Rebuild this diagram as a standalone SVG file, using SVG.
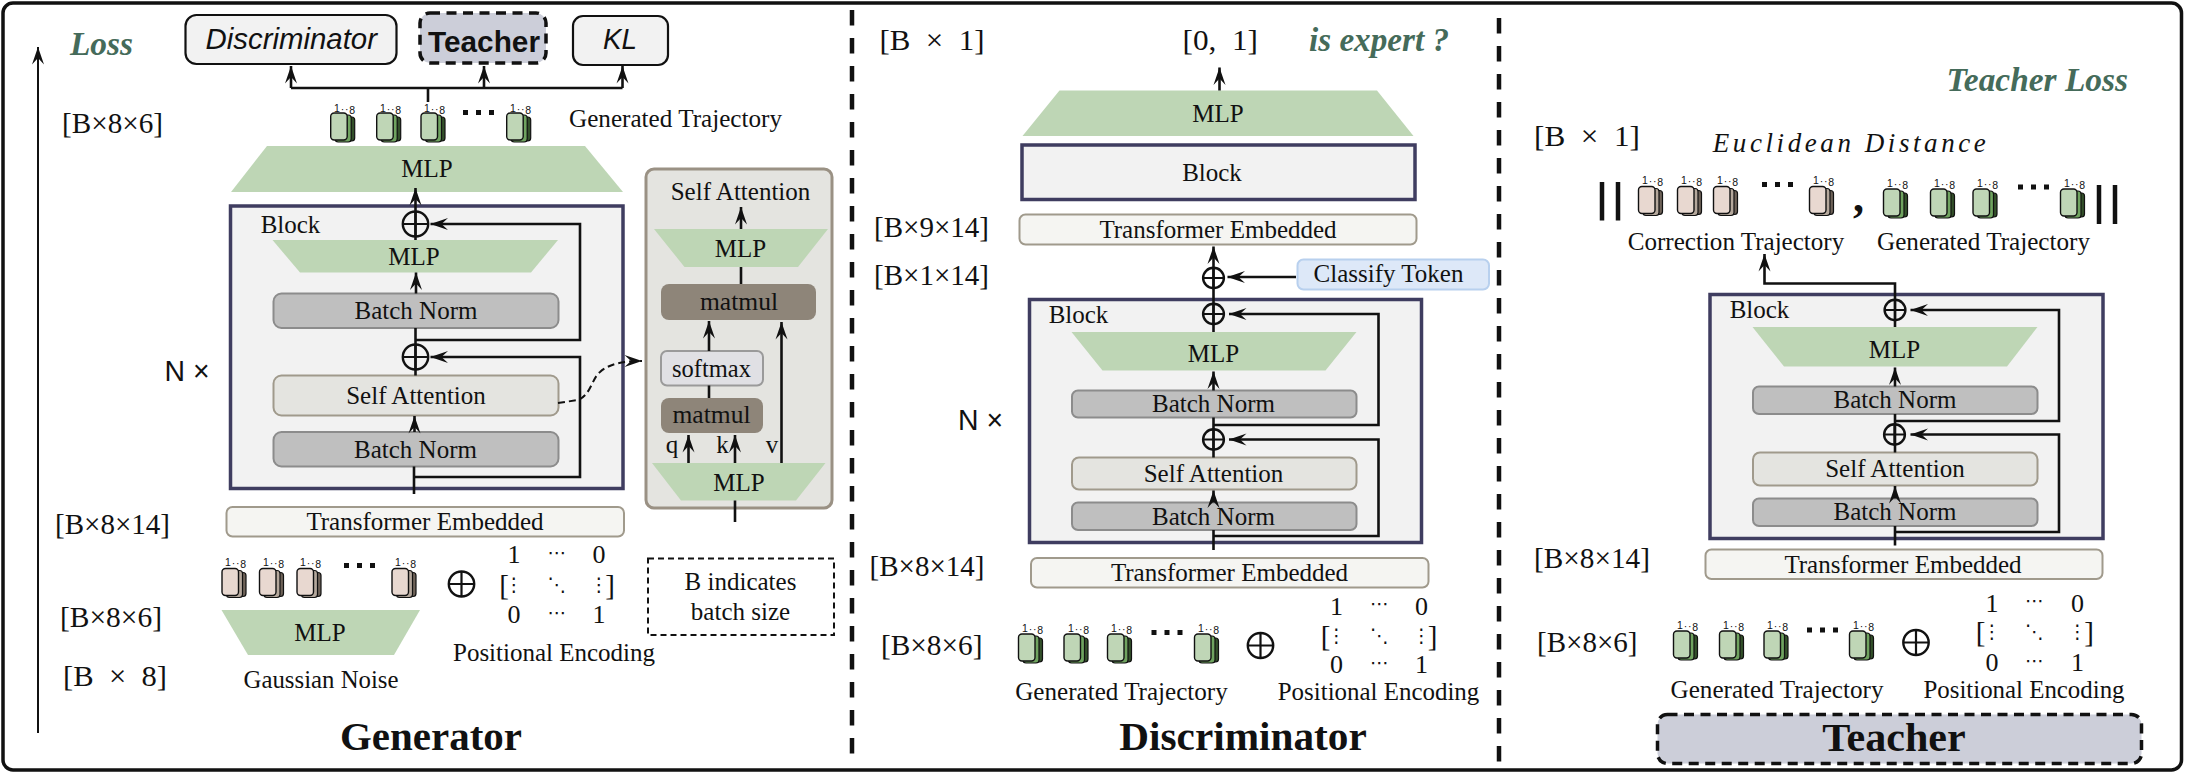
<svg xmlns="http://www.w3.org/2000/svg" width="2185" height="775" viewBox="0 0 2185 775">
<style>
text{font-family:"Liberation Serif","Times New Roman",serif;fill:#111}
.l{font-size:25px;text-anchor:middle}
.d{font-size:29px}
.tt{font-size:41px;font-weight:bold;text-anchor:middle}
.g{font-size:33px;font-weight:bold;font-style:italic;fill:#456b5a}
.i{font-family:"Liberation Sans",Arial,sans-serif;font-size:10.5px;letter-spacing:.8px;fill:#111}
.n{font-family:"Liberation Sans",Arial,sans-serif;font-size:29px}
.m{font-size:26px;text-anchor:middle}
.b{font-size:29px;text-anchor:middle}
.u{font-family:"DejaVu Sans",sans-serif;font-size:19px;text-anchor:middle}
.mlp{fill:#bed6b5}
.blk{fill:#f2f2f2;stroke:#3f3d60;stroke-width:3.5}
.bn{fill:#bfbfbf;stroke:#8c8c8c;stroke-width:2}
.sa{fill:#e4e4e0;stroke:#a09a8c;stroke-width:2}
.te{fill:#f5f5f2;stroke:#a09a8c;stroke-width:2}
.mm{fill:#8e8579}
.tc{fill:#ccced9;stroke:#111;stroke-width:3.5;stroke-dasharray:10 6.5}
.ol{fill:#f2f2f2;stroke:#111;stroke-width:2.2}
.c{fill:none;stroke:#111;stroke-width:2.6}
.a{marker-end:url(#ah)}
.dv{fill:none;stroke:#111;stroke-width:4.5;stroke-dasharray:15.5 12.5}
</style>
<defs>
<marker id="ah" markerUnits="userSpaceOnUse" markerWidth="20" markerHeight="14" refX="18" refY="7" orient="auto"><path d="M18 7L0.5 1L7 7L0.5 13Z" fill="#111"/></marker>
<g id="ig"><rect x="8" y="4" width="16" height="24" rx="3" fill="#33502a" stroke="#111" stroke-width="1.2"/><rect x="4.5" y="2" width="16" height="27" rx="3" fill="#6fa35f" stroke="#111" stroke-width="1.2"/><rect width="16.5" height="27" rx="3.5" fill="#bfd6b6" stroke="#111" stroke-width="1.4"/></g>
<g id="ip"><rect x="8" y="4" width="16" height="24" rx="3" fill="#6e6258" stroke="#111" stroke-width="1.2"/><rect x="4.5" y="2" width="16" height="27" rx="3" fill="#b5a89c" stroke="#111" stroke-width="1.2"/><rect width="16.5" height="27" rx="3.5" fill="#e8d8d0" stroke="#111" stroke-width="1.4"/></g>
<g id="pl"><ellipse rx="12.7" ry="12.5" fill="none" stroke="#111" stroke-width="2.4"/><path d="M-12.7 0H12.7M0-12.5V12.5" stroke="#111" stroke-width="2.2"/></g>
<g id="ps"><ellipse rx="10.4" ry="10.2" fill="none" stroke="#111" stroke-width="2.4"/><path d="M-10.4 0H10.4M0-10.2V10.2" stroke="#111" stroke-width="2.2"/></g>
<path id="d3" d="M0 0h5v5h-5zM13 0h5v5h-5zM26 0h5v5h-5z" fill="#111"/>
</defs>
<rect id="frame" x="3" y="3" width="2178.500" height="767" rx="10" fill="#fff" stroke="#111" stroke-width="3.5"/>
<g id="dividers"><path class="dv" d="M852 10V755"/><path class="dv" d="M1499 18V765"/></g>

<g id="gen-labels">
<text class="g" x="70" y="55" textLength="63" lengthAdjust="spacingAndGlyphs">Loss</text>
<text class="d" x="62" y="133" textLength="101" lengthAdjust="spacingAndGlyphs">[B×8×6]</text>
<text class="d" x="55" y="534" textLength="115" lengthAdjust="spacingAndGlyphs">[B×8×14]</text>
<text class="d" x="60" y="627" textLength="102" lengthAdjust="spacingAndGlyphs">[B×8×6]</text>
<text class="d" x="63" y="686" textLength="104" lengthAdjust="spacingAndGlyphs" xml:space="preserve">[B  ×  8]</text>
<text class="n" x="164.500" y="381" textLength="45" lengthAdjust="spacingAndGlyphs">N ×</text>
<text class="l" x="675.500" y="127" textLength="213" lengthAdjust="spacingAndGlyphs">Generated Trajectory</text>
<text class="l" x="554" y="661" textLength="202" lengthAdjust="spacingAndGlyphs">Positional Encoding</text>
<text class="l" x="321" y="688" textLength="155" lengthAdjust="spacingAndGlyphs">Gaussian Noise</text>
<text class="tt" x="431" y="750" textLength="182" lengthAdjust="spacingAndGlyphs">Generator</text>
</g>
<g id="gen-discriminator"><rect class="ol" x="185.500" y="15" width="211" height="49" rx="11"/><text x="205.500" y="49" font-size="30" textLength="171.500" lengthAdjust="spacingAndGlyphs" style="font-family:'Liberation Sans',sans-serif;font-style:italic">Discriminator</text></g>
<g id="gen-teacher"><rect class="tc" x="420" y="13" width="126" height="50" rx="10"/><text x="428" y="52" font-size="29" font-weight="bold" textLength="112" lengthAdjust="spacingAndGlyphs" style="font-family:'Liberation Sans',sans-serif">Teacher</text></g>
<g id="gen-kl"><rect class="ol" x="573" y="16" width="95" height="49" rx="10"/><text x="603" y="49" font-size="29" textLength="34" lengthAdjust="spacingAndGlyphs" style="font-family:'Liberation Sans',sans-serif;font-style:italic">KL</text></g>
<g id="gen-traj">
<use href="#ig" x="330.700" y="113"/><use href="#ig" x="376.700" y="113"/><use href="#ig" x="421" y="113"/><use href="#ig" x="506.700" y="113"/><use href="#d3" x="463" y="110"/>
<text class="i" x="334" y="112">1<tspan dy="1">··</tspan><tspan dy="1">8</tspan></text><text class="i" x="380" y="112">1<tspan dy="1">··</tspan><tspan dy="1">8</tspan></text><text class="i" x="424" y="112">1<tspan dy="1">··</tspan><tspan dy="1">8</tspan></text><text class="i" x="510" y="112">1<tspan dy="1">··</tspan><tspan dy="1">8</tspan></text>
</g>
<g id="gen-mlp-top"><path class="mlp" d="M267 146H585L623 192H231Z"/><text class="l" x="427" y="176.500">MLP</text></g>
<g id="gen-block"><rect class="blk" x="230.500" y="206" width="392.500" height="282.500"/><text class="l" x="290.500" y="232.500">Block</text>
<path class="mlp" d="M272.500 240H558L531 272.500H300Z"/><text class="l" x="414" y="265">MLP</text>
<rect class="bn" x="273.500" y="293.500" width="285" height="34.500" rx="8"/><text class="l" x="416" y="319">Batch Norm</text>
<rect class="sa" x="273.500" y="375.500" width="285" height="40" rx="8"/><text class="l" x="416" y="404">Self Attention</text>
<rect class="bn" x="273.500" y="432" width="285" height="34.500" rx="8"/><text class="l" x="415.500" y="458">Batch Norm</text>
<use href="#pl" x="415.500" y="224"/><use href="#pl" x="415.500" y="357"/></g>
<g id="gen-embed"><rect class="te" x="226.500" y="507" width="397.500" height="29.500" rx="6"/><text class="l" x="425" y="530">Transformer Embedded</text></g>
<g id="gen-noise">
<use href="#ip" x="222" y="568.500"/><use href="#ip" x="259.500" y="568.500"/><use href="#ip" x="297" y="568.500"/><use href="#ip" x="392" y="568.500"/><use href="#d3" x="344" y="563"/>
<text class="i" x="225" y="566">1<tspan dy="1">··</tspan><tspan dy="1">8</tspan></text><text class="i" x="263" y="566">1<tspan dy="1">··</tspan><tspan dy="1">8</tspan></text><text class="i" x="300" y="566">1<tspan dy="1">··</tspan><tspan dy="1">8</tspan></text><text class="i" x="395" y="566">1<tspan dy="1">··</tspan><tspan dy="1">8</tspan></text>
</g>
<g id="gen-mlp-noise"><path class="mlp" d="M221.500 610H420L394 655H248Z"/><text class="l" x="320" y="640.500">MLP</text></g>
<g id="gen-pos"><use href="#pl" x="461.500" y="584"/>
<text class="m" x="514" y="563">1</text><text class="u" x="557" y="559">⋯</text><text class="m" x="599" y="563">0</text>
<text class="b" x="504" y="595">[</text><text class="u" x="514" y="591">⋮</text><text class="u" x="557" y="591">⋱</text><text class="u" x="599" y="591">⋮</text><text class="b" x="610" y="595">]</text>
<text class="m" x="514" y="623">0</text><text class="u" x="557" y="619">⋯</text><text class="m" x="599" y="623">1</text></g>
<g id="gen-sa-panel"><rect x="646" y="169" width="186" height="339" rx="8" fill="#e4e4e0" stroke="#9a9184" stroke-width="3"/>
<text class="l" x="740.500" y="200">Self Attention</text>
<path class="mlp" d="M654 229H828L798 267H684.500Z"/><text class="l" x="740.500" y="257">MLP</text>
<rect class="mm" x="661" y="284" width="155" height="36" rx="8"/><text class="l" x="739" y="310" textLength="78" lengthAdjust="spacingAndGlyphs">matmul</text>
<rect x="661" y="351" width="102" height="34.500" rx="6" fill="#e0e0e4" stroke="#9a9a9a" stroke-width="2"/><text class="l" x="711.500" y="376.500" textLength="79" lengthAdjust="spacingAndGlyphs">softmax</text>
<rect class="mm" x="661" y="398" width="102" height="35" rx="8"/><text class="l" x="711.500" y="423" textLength="78" lengthAdjust="spacingAndGlyphs">matmul</text>
<text class="l" x="672" y="453">q</text><text class="l" x="722.500" y="453">k</text><text class="l" x="772" y="453">v</text>
<path class="mlp" d="M652 463H825.500L796 500.500H681Z"/><text class="l" x="739" y="490.500">MLP</text></g>
<g id="gen-note"><rect x="648" y="558.500" width="186" height="76.500" fill="none" stroke="#111" stroke-width="2" stroke-dasharray="6 4"/><text class="l" x="740.500" y="590">B indicates</text><text class="l" x="740.500" y="620">batch size</text></g>

<g id="dis-labels">
<text class="d" x="879.500" y="50" textLength="105" lengthAdjust="spacingAndGlyphs" xml:space="preserve">[B  ×  1]</text>
<text class="d" x="1182.500" y="50" textLength="75.500" lengthAdjust="spacingAndGlyphs" xml:space="preserve">[0,  1]</text>
<text class="g" x="1309" y="51" textLength="140" lengthAdjust="spacingAndGlyphs">is expert ?</text>
<text class="d" x="874" y="236.500" textLength="115" lengthAdjust="spacingAndGlyphs">[B×9×14]</text>
<text class="d" x="874" y="285" textLength="115" lengthAdjust="spacingAndGlyphs">[B×1×14]</text>
<text class="n" x="958" y="429.500" textLength="45" lengthAdjust="spacingAndGlyphs">N ×</text>
<text class="d" x="869.500" y="575.500" textLength="115" lengthAdjust="spacingAndGlyphs">[B×8×14]</text>
<text class="d" x="881" y="655" textLength="101.500" lengthAdjust="spacingAndGlyphs">[B×8×6]</text>
<text class="l" x="1121.500" y="700" textLength="212.500" lengthAdjust="spacingAndGlyphs">Generated Trajectory</text>
<text class="l" x="1378.500" y="700" textLength="201.500" lengthAdjust="spacingAndGlyphs">Positional Encoding</text>
<text class="tt" x="1243" y="750" textLength="247.500" lengthAdjust="spacingAndGlyphs">Discriminator</text>
</g>
<g id="dis-mlp-top"><path class="mlp" d="M1059.500 90.500H1377L1413.500 136H1022.500Z"/><text class="l" x="1218" y="121.500">MLP</text></g>
<g id="dis-block-top"><rect class="blk" x="1022" y="145" width="393" height="54.500"/><text class="l" x="1212" y="181">Block</text></g>
<g id="dis-embed-top"><rect class="te" x="1019.500" y="214.500" width="397" height="30" rx="6"/><text class="l" x="1218" y="237.500">Transformer Embedded</text></g>
<g id="dis-token"><rect x="1297.500" y="259.500" width="191.500" height="30" rx="6" fill="#dde8f8" stroke="#b8d0ee" stroke-width="2"/><text class="l" x="1388.500" y="281.500">Classify Token</text></g>
<g id="dis-block"><rect class="blk" x="1029.500" y="299.500" width="392" height="243"/><text class="l" x="1078.500" y="322.500">Block</text>
<path class="mlp" d="M1071.500 332H1356.500L1325.500 370.500H1102.500Z"/><text class="l" x="1213.500" y="362">MLP</text>
<rect class="bn" x="1072" y="390.500" width="284.500" height="27" rx="6"/><text class="l" x="1213.500" y="411.500">Batch Norm</text>
<rect class="sa" x="1072" y="457.500" width="284.500" height="32" rx="7"/><text class="l" x="1213.500" y="481.500">Self Attention</text>
<rect class="bn" x="1072" y="502.500" width="284.500" height="27.500" rx="6"/><text class="l" x="1213.500" y="525">Batch Norm</text>
<use href="#ps" x="1213.500" y="314"/><use href="#ps" x="1213.500" y="439.500"/></g>
<use id="dis-plus-token" href="#ps" x="1213.500" y="278"/>
<g id="dis-embed"><rect class="te" x="1031" y="558" width="397.500" height="29.500" rx="6"/><text class="l" x="1229.500" y="580.500">Transformer Embedded</text></g>
<g id="dis-traj">
<use href="#ig" x="1018.500" y="634"/><use href="#ig" x="1064" y="634"/><use href="#ig" x="1107.500" y="634"/><use href="#ig" x="1194.500" y="634"/><use href="#d3" x="1151.500" y="630"/>
<text class="i" x="1022" y="632">1<tspan dy="1">··</tspan><tspan dy="1">8</tspan></text><text class="i" x="1068" y="632">1<tspan dy="1">··</tspan><tspan dy="1">8</tspan></text><text class="i" x="1111" y="632">1<tspan dy="1">··</tspan><tspan dy="1">8</tspan></text><text class="i" x="1198" y="632">1<tspan dy="1">··</tspan><tspan dy="1">8</tspan></text>
</g>
<g id="dis-pos"><use href="#pl" x="1260.500" y="645.500"/>
<text class="m" x="1336.500" y="614.500">1</text><text class="u" x="1379.500" y="610">⋯</text><text class="m" x="1421.500" y="614.500">0</text>
<text class="b" x="1325.500" y="645.500">[</text><text class="u" x="1336.500" y="642">⋮</text><text class="u" x="1379.500" y="642">⋱</text><text class="u" x="1421.500" y="642">⋮</text><text class="b" x="1432.500" y="645.500">]</text>
<text class="m" x="1336.500" y="672.500">0</text><text class="u" x="1379.500" y="669">⋯</text><text class="m" x="1421.500" y="672.500">1</text></g>

<g id="tea-labels">
<text class="g" x="1946.500" y="90.500" textLength="181.500" lengthAdjust="spacingAndGlyphs">Teacher Loss</text>
<text class="d" x="1534" y="145.500" textLength="106" lengthAdjust="spacingAndGlyphs" xml:space="preserve">[B  ×  1]</text>
<text x="1712.800" y="151.500" font-size="27" font-style="italic" textLength="273">Euclidean Distance</text>
<text class="l" x="1736" y="249.500" textLength="216.500" lengthAdjust="spacingAndGlyphs">Correction Trajectory</text>
<text class="l" x="1983.500" y="249.500" textLength="213" lengthAdjust="spacingAndGlyphs">Generated Trajectory</text>
<text class="d" x="1534" y="568" textLength="116" lengthAdjust="spacingAndGlyphs">[B×8×14]</text>
<text class="d" x="1537" y="651.500" textLength="100.500" lengthAdjust="spacingAndGlyphs">[B×8×6]</text>
<text class="l" x="1777" y="697.500" textLength="213" lengthAdjust="spacingAndGlyphs">Generated Trajectory</text>
<text class="l" x="2024" y="697.500" textLength="201" lengthAdjust="spacingAndGlyphs">Positional Encoding</text>
</g>
<g id="tea-norm"><path d="M1602 182V220.500M1618 182V220.500M2099 185V224M2115 185V224" stroke="#111" stroke-width="4.500" fill="none"/>
<text x="1853" y="212" font-size="44" font-weight="bold">,</text></g>
<g id="tea-correction">
<use href="#ip" x="1638.500" y="186.500"/><use href="#ip" x="1677.500" y="186.500"/><use href="#ip" x="1713.500" y="186.500"/><use href="#ip" x="1809.500" y="186.500"/><use href="#d3" x="1762" y="182"/>
<text class="i" x="1642" y="184">1<tspan dy="1">··</tspan><tspan dy="1">8</tspan></text><text class="i" x="1681" y="184">1<tspan dy="1">··</tspan><tspan dy="1">8</tspan></text><text class="i" x="1717" y="184">1<tspan dy="1">··</tspan><tspan dy="1">8</tspan></text><text class="i" x="1813" y="184">1<tspan dy="1">··</tspan><tspan dy="1">8</tspan></text>
</g>
<g id="tea-generated">
<use href="#ig" x="1883.500" y="189"/><use href="#ig" x="1930.500" y="189"/><use href="#ig" x="1973" y="189"/><use href="#ig" x="2060.500" y="189"/><use href="#d3" x="2018" y="184.500"/>
<text class="i" x="1887" y="186.500">1<tspan dy="1">··</tspan><tspan dy="1">8</tspan></text><text class="i" x="1934" y="186.500">1<tspan dy="1">··</tspan><tspan dy="1">8</tspan></text><text class="i" x="1977" y="186.500">1<tspan dy="1">··</tspan><tspan dy="1">8</tspan></text><text class="i" x="2064" y="186.500">1<tspan dy="1">··</tspan><tspan dy="1">8</tspan></text>
</g>
<g id="tea-block"><rect class="blk" x="1710" y="294.500" width="393" height="244"/><text class="l" x="1759.500" y="317.500">Block</text>
<path class="mlp" d="M1752.500 327H2037.500L2007 366.500H1784Z"/><text class="l" x="1894.500" y="357.500">MLP</text>
<rect class="bn" x="1753" y="386.500" width="284.500" height="27.500" rx="6"/><text class="l" x="1895" y="407.500">Batch Norm</text>
<rect class="sa" x="1753" y="452.500" width="284.500" height="33" rx="7"/><text class="l" x="1895" y="476.500">Self Attention</text>
<rect class="bn" x="1753" y="498.500" width="284.500" height="27.500" rx="6"/><text class="l" x="1895" y="520">Batch Norm</text>
<use href="#ps" x="1895" y="310"/><use href="#ps" x="1894.500" y="434.500"/></g>
<g id="tea-embed"><rect class="te" x="1705.500" y="549.500" width="397" height="29.500" rx="6"/><text class="l" x="1903" y="572.500">Transformer Embedded</text></g>
<g id="tea-traj">
<use href="#ig" x="1673.500" y="631"/><use href="#ig" x="1719.500" y="631"/><use href="#ig" x="1764" y="631"/><use href="#ig" x="1849.500" y="631"/><use href="#d3" x="1807" y="627.500"/>
<text class="i" x="1677" y="629">1<tspan dy="1">··</tspan><tspan dy="1">8</tspan></text><text class="i" x="1723" y="629">1<tspan dy="1">··</tspan><tspan dy="1">8</tspan></text><text class="i" x="1767" y="629">1<tspan dy="1">··</tspan><tspan dy="1">8</tspan></text><text class="i" x="1853" y="629">1<tspan dy="1">··</tspan><tspan dy="1">8</tspan></text>
</g>
<g id="tea-pos"><use href="#pl" x="1916" y="642.500"/>
<text class="m" x="1992" y="611.500">1</text><text class="u" x="2034.500" y="607">⋯</text><text class="m" x="2077.500" y="611.500">0</text>
<text class="b" x="1980.500" y="642">[</text><text class="u" x="1992" y="638">⋮</text><text class="u" x="2034.500" y="638">⋱</text><text class="u" x="2077.500" y="638">⋮</text><text class="b" x="2089" y="642">]</text>
<text class="m" x="1992" y="670.500">0</text><text class="u" x="2034.500" y="667">⋯</text><text class="m" x="2077.500" y="670.500">1</text></g>
<g id="tea-title"><rect class="tc" x="1657.500" y="714.500" width="484" height="49" rx="10"/><text class="tt" x="1894" y="750.500" textLength="143.500" lengthAdjust="spacingAndGlyphs">Teacher</text></g>

<g id="connectors">
<path class="c a" style="stroke-width:2" d="M38 733V47"/>
<path class="c" d="M428 102V88M291 88H622.500"/>
<path class="c a" d="M291 88V66"/><path class="c a" d="M484 88V66"/><path class="c a" d="M622.500 88V66"/>
<path class="c a" d="M415.500 240V188"/>
<path class="c a" d="M415.500 340H580V224H430.500"/>
<path class="c a" d="M416 293.500V272.500"/>
<path class="c" d="M415.500 328V375.500"/>
<path class="c a" d="M414 477H580V357H430.500"/>
<path class="c a" d="M414.500 432V416"/>
<path class="c" d="M414 466.500V494"/>
<path class="c a" style="stroke-width:2;stroke-dasharray:7 4" d="M558 403L578 400C591 395 592 378 600 372C610 363 625 361 642 361"/>
<path class="c a" d="M741 229V207"/><path class="c" d="M741 267V284"/>
<path class="c a" d="M709 351V321"/><path class="c" d="M709 385.500V398"/>
<path class="c a" d="M781.500 463V322"/>
<path class="c a" d="M688.500 463V435"/><path class="c a" d="M735 463V435"/>
<path class="c" d="M735 500.500V522"/>

<path class="c a" d="M1219.500 90.500V67.500"/>
<path class="c a" d="M1213.500 332V246.500"/>
<path class="c a" d="M1296 277H1227.500"/>
<path class="c a" d="M1213.500 425H1378.500V314H1229"/>
<path class="c a" d="M1213.500 390.500V371.500"/>
<path class="c" d="M1213.500 417.500V457.500"/>
<path class="c a" d="M1213.500 536H1378.500V439.500H1229"/>
<path class="c a" d="M1213.500 502.500V490.500"/>
<path class="c" d="M1213.500 530V550"/>

<path class="c a" d="M1895 327V283.500H1764.500V254"/>
<path class="c a" d="M1895 421H2059V310H1910.500"/>
<path class="c a" d="M1895 386.500V367.500"/>
<path class="c" d="M1895 414V452.500"/>
<path class="c a" d="M1895 532H2059V434.500H1910.500"/>
<path class="c a" d="M1895 498.500V486"/>
<path class="c" d="M1895 526V545.500"/>
</g>
</svg>
